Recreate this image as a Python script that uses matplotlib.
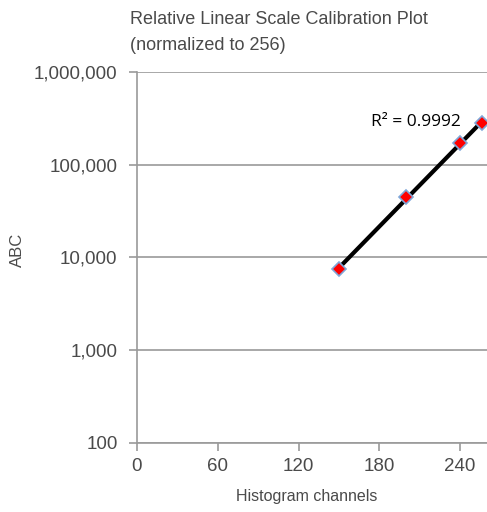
import matplotlib
matplotlib.use("Agg")
import matplotlib.pyplot as plt
import matplotlib.ticker as mticker
import numpy as np

# calibration points: histogram channel vs ABC
channels = [150, 200, 240, 256]
abc = [7500, 45000, 170000, 280000]
r2_label = "R² = 0.9992"

xticks = [0, 60, 120, 180, 240]
yticks = [100, 1000, 10000, 100000, 1000000]

grey = "#9a9a9a"
txt = "#4a4a4a"
plt.rcParams['font.family'] = ['Liberation Sans', 'DejaVu Sans']

fig = plt.figure(figsize=(4.87, 5.12), dpi=100)
ax = fig.add_axes([0.2813, 0.1348, 0.7187, 0.7246])

# exponential trendline (linear fit of log10 values)
slope, icept = np.polyfit(channels, np.log10(abc), 1)
xs = np.array([min(channels), max(channels)])
ax.plot(xs, 10 ** (slope * xs + icept), color="black", lw=3, zorder=3)
ax.plot(channels, abc, linestyle="none", marker="D", ms=7, mfc="#ff0000",
        mec="#7fa6d8", mew=1.2, zorder=4)

ax.set_yscale("log")
ax.set_xlim(0, 260)
ax.set_ylim(100, 1000000)
ax.set_xticks(xticks)
ax.set_yticks(yticks)
ax.yaxis.set_minor_locator(mticker.NullLocator())
ax.yaxis.set_major_formatter(mticker.FuncFormatter(lambda v, p: f"{int(v):,}"))
ax.grid(axis="y", color=grey, lw=1.2)
ax.set_axisbelow(True)

for s in ["top", "right"]:
    ax.spines[s].set_visible(False)
for s in ["left", "bottom"]:
    ax.spines[s].set_color(grey)
    ax.spines[s].set_linewidth(1.2)
ax.tick_params(axis="both", colors=grey, length=6, width=1.2, labelsize=13.5,
               labelcolor=txt)
ax.tick_params(axis="x", pad=5)
ax.tick_params(axis="y", pad=8)

ax.text(0.925, 0.865, r2_label, transform=ax.transAxes, ha="right", va="center",
        fontsize=12.5, color="black", family=["Open Sans", "DejaVu Sans"])

fig.text(130 / 487, 1 - 20 / 512, "Relative Linear Scale Calibration Plot",
         fontsize=13, color=txt, va="center")
fig.text(130 / 487, 1 - 45 / 512, "(normalized to 256)",
         fontsize=13, color=txt, va="center")
fig.text(17 / 487, 1 - 250 / 512, "ABC", rotation=90, fontsize=12,
         color=txt, va="center", ha="center")
fig.text(307 / 487, 1 - 497 / 512, "Histogram channels", fontsize=11.5,
         color=txt, va="center", ha="center")

fig.savefig("out.png", dpi=100)
